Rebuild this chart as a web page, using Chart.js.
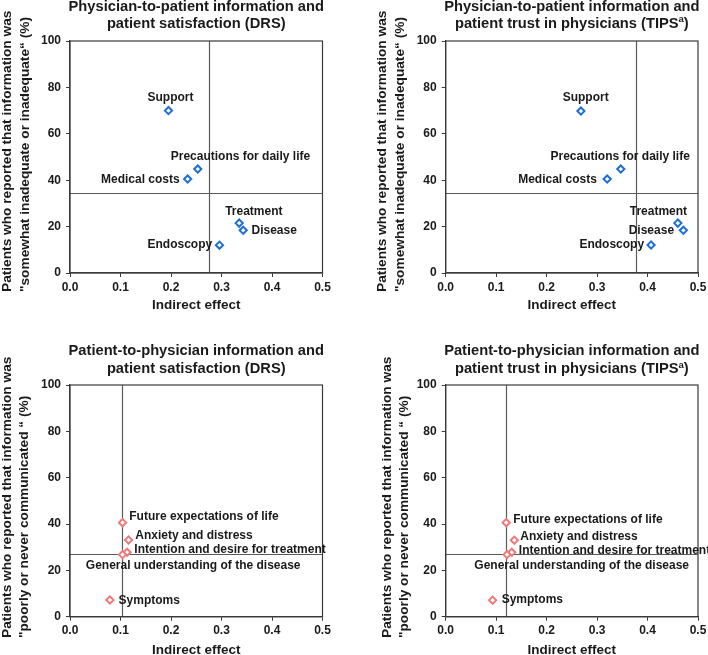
<!DOCTYPE html>
<html><head><meta charset="utf-8">
<script src="https://cdn.jsdelivr.net/npm/chart.js@4.4.1/dist/chart.umd.min.js"></script>
<style>
html,body{margin:0;padding:0;background:#fff;overflow:hidden;width:708px;height:655px;position:relative}
canvas{position:absolute;display:block}
</style></head><body>
<canvas id="c1"></canvas><canvas id="c2"></canvas><canvas id="c3"></canvas><canvas id="c4"></canvas>
<script>
// ---------- data ----------
const topCategories = ['Support','Precautions for daily life','Medical costs','Treatment','Disease','Endoscopy'];
const drsTopX  = [0.195, 0.253, 0.233, 0.335, 0.343, 0.296];
const drsTopY  = [70.0, 44.8, 40.5, 21.5, 18.4, 12.0];
const tipsTopX = [0.268, 0.347, 0.320, 0.460, 0.471, 0.407];
const tipsTopY = [69.8, 44.8, 40.5, 21.5, 18.4, 12.1];

const bottomCategories = ['Future expectations of life','Anxiety and distress','Intention and desire for treatment','General understanding of the disease','Symptoms'];
const drsBottomX  = [0.104, 0.116, 0.113, 0.104, 0.079];
const drsBottomY  = [40.6, 33.1, 27.8, 26.8, 7.2];
const tipsBottomX = [0.120, 0.136, 0.131, 0.1215, 0.093];
const tipsBottomY = [40.6, 33.0, 27.8, 26.8, 7.1];

// reference (mean) lines per panel
const refLineX = [0.276, 0.378, 0.1036, 0.120];
const refLineY = [34.5, 34.5, 26.9, 26.9];

const xTickValues = [0.0, 0.1, 0.2, 0.3, 0.4, 0.5];
const yTickValues = [0, 20, 40, 60, 80, 100];

const titles = [
  [[{t:'Physician-to-patient information and'}],[{t:'patient satisfaction (DRS)'}]],
  [[{t:'Physician-to-patient information and'}],[{t:'patient trust in physicians (TIPS'},{t:'a',sup:true},{t:')'}]],
  [[{t:'Patient-to-physician information and'}],[{t:'patient satisfaction (DRS)'}]],
  [[{t:'Patient-to-physician information and'}],[{t:'patient trust in physicians (TIPS'},{t:'a',sup:true},{t:')'}]]
];
const yTitleTop = ['Patients who reported that information was', '"somewhat inadequate or inadequate\u201C (%)'];
const yTitleBottom = ['Patients who reported that information was', '"poorly or never communicated \u201C (%)'];
const xTitle = 'Indirect effect';

// ---------- layout / style (not data) ----------
const FONT = '"Liberation Sans", Arial, Helvetica, sans-serif';
const BLUE = '#1f6fd8', RED = '#f07a7a', INK = '#1a1a1a', AXIS = '#3a3a3a';

// label placements: [dx, dy, align]
const labTopDRS  = [[2,-13,'center'],[-27,-12.7,'left'],[-8,0.7,'right'],[-14,-11,'left'],[8.3,0.7,'left'],[-7.3,-0.5,'right']];
const labTopTIPS = [[4.7,-13.3,'center'],[-70.3,-12.7,'left'],[-10.3,0.7,'right'],[9.3,-11.3,'right'],[-9.3,0.7,'right'],[-7,-0.3,'right']];
const labBotDRS  = [[6.7,-6,'left'],[6.7,-4.3,'left'],[7.3,-2.3,'left'],[-36.7,11.3,'left'],[8.7,0.7,'left']];
const labBotTIPS = [[7,-3.3,'left'],[6,-4,'left'],[7,-1.7,'left'],[-32.7,11.3,'left'],[9,-0.3,'left']];

const panels = [
  {id:'c1', left:0,   top:0,   w:360, h:330, area:[70,41,322.5,273],   cats:topCategories, xs:drsTopX, ys:drsTopY, color:BLUE,
   yTitle:yTitleTop, yTitleX:[7.5,25], yTitleStart:292, xTitleY:305, titleY:[6.5,23.5], lab:labTopDRS},
  {id:'c2', left:354, top:0,   w:370, h:330, area:[445.7,41,698,273],  cats:topCategories, xs:tipsTopX, ys:tipsTopY, color:BLUE,
   yTitle:yTitleTop, yTitleX:[382.5,400], yTitleStart:292, xTitleY:305, titleY:[6.5,23.5], lab:labTopTIPS},
  {id:'c3', left:0,   top:330, w:360, h:325, area:[70,385,322.5,616.7], cats:bottomCategories, xs:drsBottomX, ys:drsBottomY, color:RED,
   yTitle:yTitleBottom, yTitleX:[7.5,24], yTitleStart:638, xTitleY:650, titleY:[350.7,369], lab:labBotDRS},
  {id:'c4', left:354, top:330, w:370, h:325, area:[445.7,385,698,616.7], cats:bottomCategories, xs:tipsBottomX, ys:tipsBottomY, color:RED,
   yTitle:yTitleBottom, yTitleX:[387,404.5], yTitleStart:638, xTitleY:650, titleY:[350.7,369], lab:labBotTIPS}
];

function makeDeco(p, idx) {
  return {
    id: 'deco' + idx,
    beforeDatasetsDraw(chart) {
      const {ctx, chartArea:a, scales:{x, y}} = chart;
      ctx.save();
      // reference lines
      ctx.strokeStyle = '#5a5a5a';
      ctx.lineWidth = 1.2;
      const rx = Math.round(x.getPixelForValue(refLineX[idx])) + 0.5;
      const ry = Math.round(y.getPixelForValue(refLineY[idx])) + 0.5;
      ctx.beginPath();
      ctx.moveTo(rx, a.top); ctx.lineTo(rx, a.bottom);
      ctx.moveTo(a.left, ry); ctx.lineTo(a.right, ry);
      ctx.stroke();
      // frame
      ctx.strokeStyle = AXIS;
      ctx.lineWidth = 1.2;
      ctx.strokeRect(a.left, a.top, a.right - a.left, a.bottom - a.top);
      ctx.restore();
    },
    afterDatasetsDraw(chart) {
      const {ctx, chartArea:a, scales:{x, y}} = chart;
      ctx.save();
      ctx.fillStyle = INK;
      // point labels
      ctx.font = 'bold 12px ' + FONT;
      ctx.textBaseline = 'middle';
      p.cats.forEach((c, i) => {
        const [dx, dy, al] = p.lab[i];
        ctx.textAlign = al;
        ctx.fillText(c, x.getPixelForValue(p.xs[i]) + dx, y.getPixelForValue(p.ys[i]) + dy);
      });
      const cx = (a.left + a.right) / 2;
      // chart title
      titles[idx].forEach((segs, li) => {
        const ly = p.titleY[li] - p.top;
        const big = 'bold 14.7px ' + FONT, small = 'bold 9.5px ' + FONT;
        let total = 0;
        segs.forEach(s => { ctx.font = s.sup ? small : big; total += ctx.measureText(s.t).width; });
        let sx = cx - total / 2;
        ctx.textAlign = 'left';
        segs.forEach(s => {
          ctx.font = s.sup ? small : big;
          ctx.fillText(s.t, sx, s.sup ? ly - 4 : ly);
          sx += ctx.measureText(s.t).width;
        });
      });
      // x axis title
      ctx.font = 'bold 13.5px ' + FONT;
      ctx.textAlign = 'center';
      ctx.fillText(xTitle, cx, p.xTitleY - p.top);
      // y axis title (two lines, start-aligned)
      ctx.font = 'bold 13.7px ' + FONT;
      p.yTitle.forEach((t, li) => {
        ctx.save();
        ctx.translate(p.yTitleX[li] - p.left, p.yTitleStart - p.top);
        ctx.rotate(-Math.PI / 2);
        ctx.textAlign = 'left';
        ctx.fillText(t, 0, 0);
        ctx.restore();
      });
      ctx.restore();
    }
  };
}

panels.forEach((p, idx) => {
  const cv = document.getElementById(p.id);
  cv.width = p.w; cv.height = p.h;
  cv.style.left = p.left + 'px'; cv.style.top = p.top + 'px';
  cv.style.width = p.w + 'px'; cv.style.height = p.h + 'px';
  const [al, at, ar, ab] = p.area;
  const yAxisW = al - p.left;
  const padTop = at - p.top;
  const padRight = p.left + p.w - ar;
  const xAxisH = p.top + p.h - ab;
  const tickFont = {family: FONT, size: 12, weight: 'bold'};
  new Chart(cv, {
    type: 'scatter',
    data: {
      datasets: [{
        data: p.xs.map((v, i) => ({x: v, y: p.ys[i]})),
        pointStyle: 'rectRot',
        pointRadius: 3.6,
        pointHoverRadius: 3.6,
        pointBorderWidth: 2,
        borderColor: p.color,
        pointBorderColor: p.color,
        backgroundColor: '#ffffff',
        pointBackgroundColor: '#ffffff'
      }]
    },
    options: {
      responsive: false,
      animation: false,
      events: [],
      layout: {padding: {top: padTop, right: padRight, left: 0, bottom: 0}},
      plugins: {legend: {display: false}, title: {display: false}, tooltip: {enabled: false}},
      scales: {
        x: {
          type: 'linear', min: 0, max: 0.5,
          afterFit(s) { s.height = xAxisH; },
          afterBuildTicks(s) { s.ticks = xTickValues.map(v => ({value: v})); },
          ticks: {font: tickFont, color: INK, padding: 3, maxRotation: 0, autoSkip: false,
                  callback: v => Number(v).toFixed(1)},
          grid: {display: true, drawOnChartArea: false, drawTicks: true, tickLength: 4, color: AXIS, lineWidth: 1},
          border: {display: true, color: AXIS, width: 1.2},
          title: {display: false}
        },
        y: {
          type: 'linear', min: 0, max: 100,
          afterFit(s) { s.width = yAxisW; },
          afterBuildTicks(s) { s.ticks = yTickValues.map(v => ({value: v})); },
          ticks: {font: tickFont, color: INK, padding: 5},
          grid: {display: true, drawOnChartArea: false, drawTicks: true, tickLength: 4, color: AXIS, lineWidth: 1},
          border: {display: true, color: AXIS, width: 1.2},
          title: {display: false}
        }
      }
    },
    plugins: [makeDeco(p, idx)]
  });
});
</script>
</body></html>
